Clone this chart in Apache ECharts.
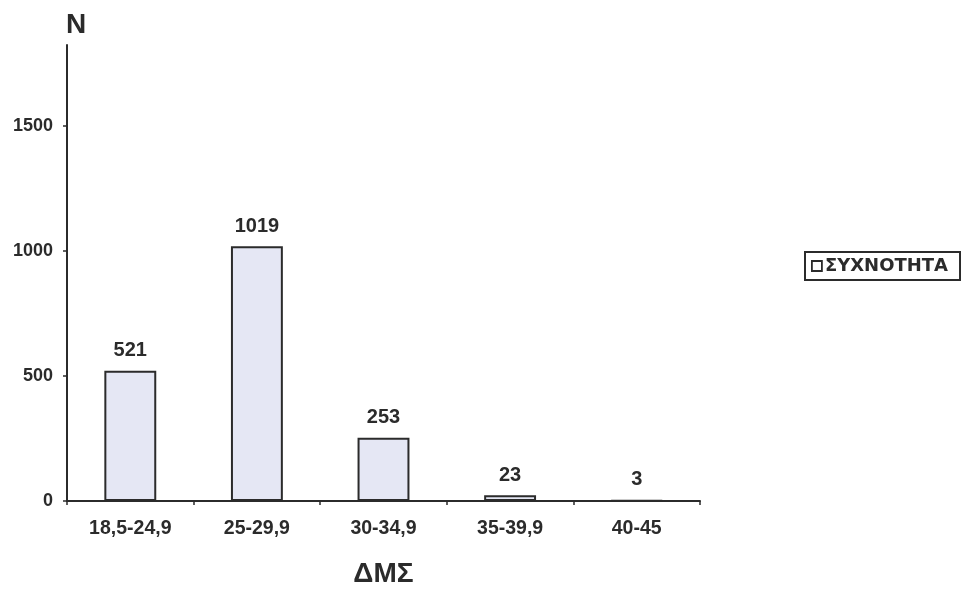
<!DOCTYPE html>
<html>
<head>
<meta charset="utf-8">
<script src="https://cdn.jsdelivr.net/npm/echarts@6/dist/echarts.min.js"></script>
<style>
  html, body { margin: 0; padding: 0; background: #ffffff; }
  #chart { width: 961px; height: 590px; }
</style>
</head>
<body>
<div id="chart"></div>
<script>
// BMI classes (ΔΜΣ) and number of subjects in each class
const categories = ['18,5-24,9', '25-29,9', '30-34,9', '35-39,9', '40-45'];
const frequency = [521, 1019, 253, 23, 3];
const yTicks = [0, 500, 1000, 1500];
const seriesName = 'ΣΥΧΝΟΤΗΤΑ';

const ink = '#2b2b2b';
const font = '"Liberation Sans", Arial, sans-serif';

const chart = echarts.init(document.getElementById('chart'), null, { renderer: 'canvas' });

chart.setOption({
  backgroundColor: '#ffffff',
  animation: false,
  grid: { left: 67, right: 261, top: 45, bottom: 89, containLabel: false, outerBoundsMode: 'none' },
  legend: {
    left: 805,
    top: 252,
    orient: 'horizontal',
    data: [seriesName],
    borderColor: ink,
    borderWidth: 2,
    borderRadius: 0,
    padding: [5, 12, 5, 6],
    itemWidth: 10,
    itemHeight: 10,
    itemGap: 4,
    icon: 'rect',
    itemStyle: { borderColor: ink, borderWidth: 1.8, color: '#ffffff' },
    textStyle: { fontFamily: '"DejaVu Sans", sans-serif', fontWeight: 'bold', fontSize: 18, color: ink, padding: [0, 0, 0, -2] }
  },
  xAxis: {
    type: 'category',
    data: categories,
    name: 'ΔΜΣ',
    nameLocation: 'middle',
    nameGap: 59,
    nameTextStyle: { fontFamily: font, fontWeight: 'bold', fontSize: 28, color: ink },
    axisLine: { lineStyle: { color: ink, width: 2 } },
    axisTick: { show: true, alignWithLabel: false, inside: false, length: 4, lineStyle: { color: ink, width: 1.5 } },
    axisLabel: { margin: 18, fontFamily: font, fontWeight: 'bold', fontSize: 19.5, color: ink },
    splitLine: { show: false }
  },
  yAxis: {
    type: 'value',
    min: 0,
    max: 1824,
    interval: 500,
    name: 'N',
    nameLocation: 'end',
    nameGap: 6,
    nameTextStyle: { fontFamily: font, fontWeight: 'bold', fontSize: 28, color: ink, align: 'center', padding: [0, 0, 0, 18] },
    axisLine: { show: true, lineStyle: { color: ink, width: 2 } },
    axisTick: { show: true, length: 4, customValues: yTicks, lineStyle: { color: ink, width: 1.5 } },
    axisLabel: {
      margin: 14,
      customValues: yTicks,
      formatter: (v) => String(v),
      fontFamily: font,
      fontWeight: 'bold',
      fontSize: 18,
      color: ink
    },
    splitLine: { show: false }
  },
  series: [{
    name: seriesName,
    type: 'bar',
    data: frequency,
    barWidth: '41%',
    itemStyle: { color: '#e5e7f4', borderColor: ink, borderWidth: 2 },
    label: {
      show: true,
      position: 'top',
      distance: 10,
      fontFamily: font,
      fontWeight: 'bold',
      fontSize: 20,
      color: ink
    }
  }]
});
</script>
</body>
</html>
